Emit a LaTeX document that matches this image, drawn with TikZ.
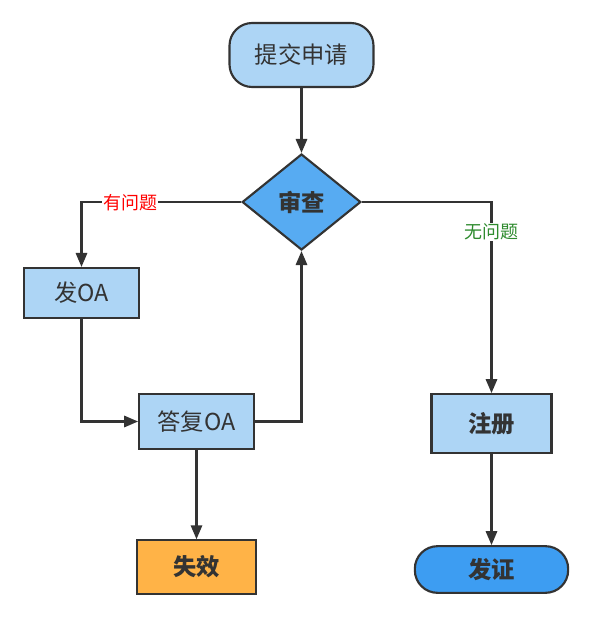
\documentclass[tikz,border=0pt]{standalone}
\usepackage{fontspec}
\setmainfont{Noto Sans CJK SC}
\usetikzlibrary{shapes.geometric,arrows.meta}
\definecolor{lblue}{HTML}{ADD5F5}
\definecolor{dblue}{HTML}{57ABF2}
\definecolor{bblue}{HTML}{3D9DF2}
\definecolor{orng}{HTML}{FFB347}
\definecolor{strk}{HTML}{333333}
\definecolor{lgreen}{HTML}{2E8B2E}
\begin{document}
\begin{tikzpicture}[x=0.75pt,y=-0.75pt,
  base/.style={draw=strk,line width=1.6pt,inner sep=0pt,font=\fontsize{17.5}{20}\selectfont,text=strk},
  boxn/.style={base,rectangle,fill=lblue},
  roundn/.style={base,rounded corners=17pt,fill=lblue},
  boldf/.style={font=\fontsize{17.5}{20}\selectfont\bfseries},
  diam/.style={base,diamond,fill=dblue,boldf},
  conn/.style={draw=strk,line width=1.6pt,-{Triangle[length=10.5pt,width=8.5pt]}},
  lbl/.style={fill=white,inner sep=1pt,font=\fontsize{13.5}{15}\selectfont}]
\useasboundingbox (0,0) rectangle (596,621);
\node[roundn,minimum width=108pt,minimum height=48pt] (start) at (301.5,55) {提交申请};
\node[diam,minimum width=89pt,minimum height=72pt,aspect=1.24] (check) at (301.5,202) {审查};
\node[boxn,minimum width=86pt,minimum height=37.5pt] (sendoa) at (81.5,293) {发OA};
\node[boxn,minimum width=86pt,minimum height=41pt] (reply) at (196.5,421.5) {答复OA};
\node[boxn,fill=orng,minimum width=89pt,minimum height=40pt,boldf] (fail) at (196.5,567) {失效};
\node[boxn,minimum width=90pt,minimum height=44pt,boldf] (reg) at (491.5,423.5) {注册};
\node[roundn,fill=bblue,minimum width=115pt,minimum height=35pt,rounded corners=17pt,boldf] (cert) at (491.5,569.5) {发证};
\draw[conn] (start) -- (check);
\draw[conn] (check.west) -| (sendoa.north);
\node[lbl,text=red] (lq) at (130,203) {有问题};
\draw[conn] (sendoa.south) |- (reply.west);
\draw[conn] (reply.east) -| (check.south);
\draw[conn] (reply.south) -- (fail.north);
\draw[conn] (check.east) -| (reg.north);
\node[lbl,text=lgreen] (ok) at (491.5,232) {无问题};
\draw[conn] (reg.south) -- (cert.north);
\end{tikzpicture}
\end{document}
